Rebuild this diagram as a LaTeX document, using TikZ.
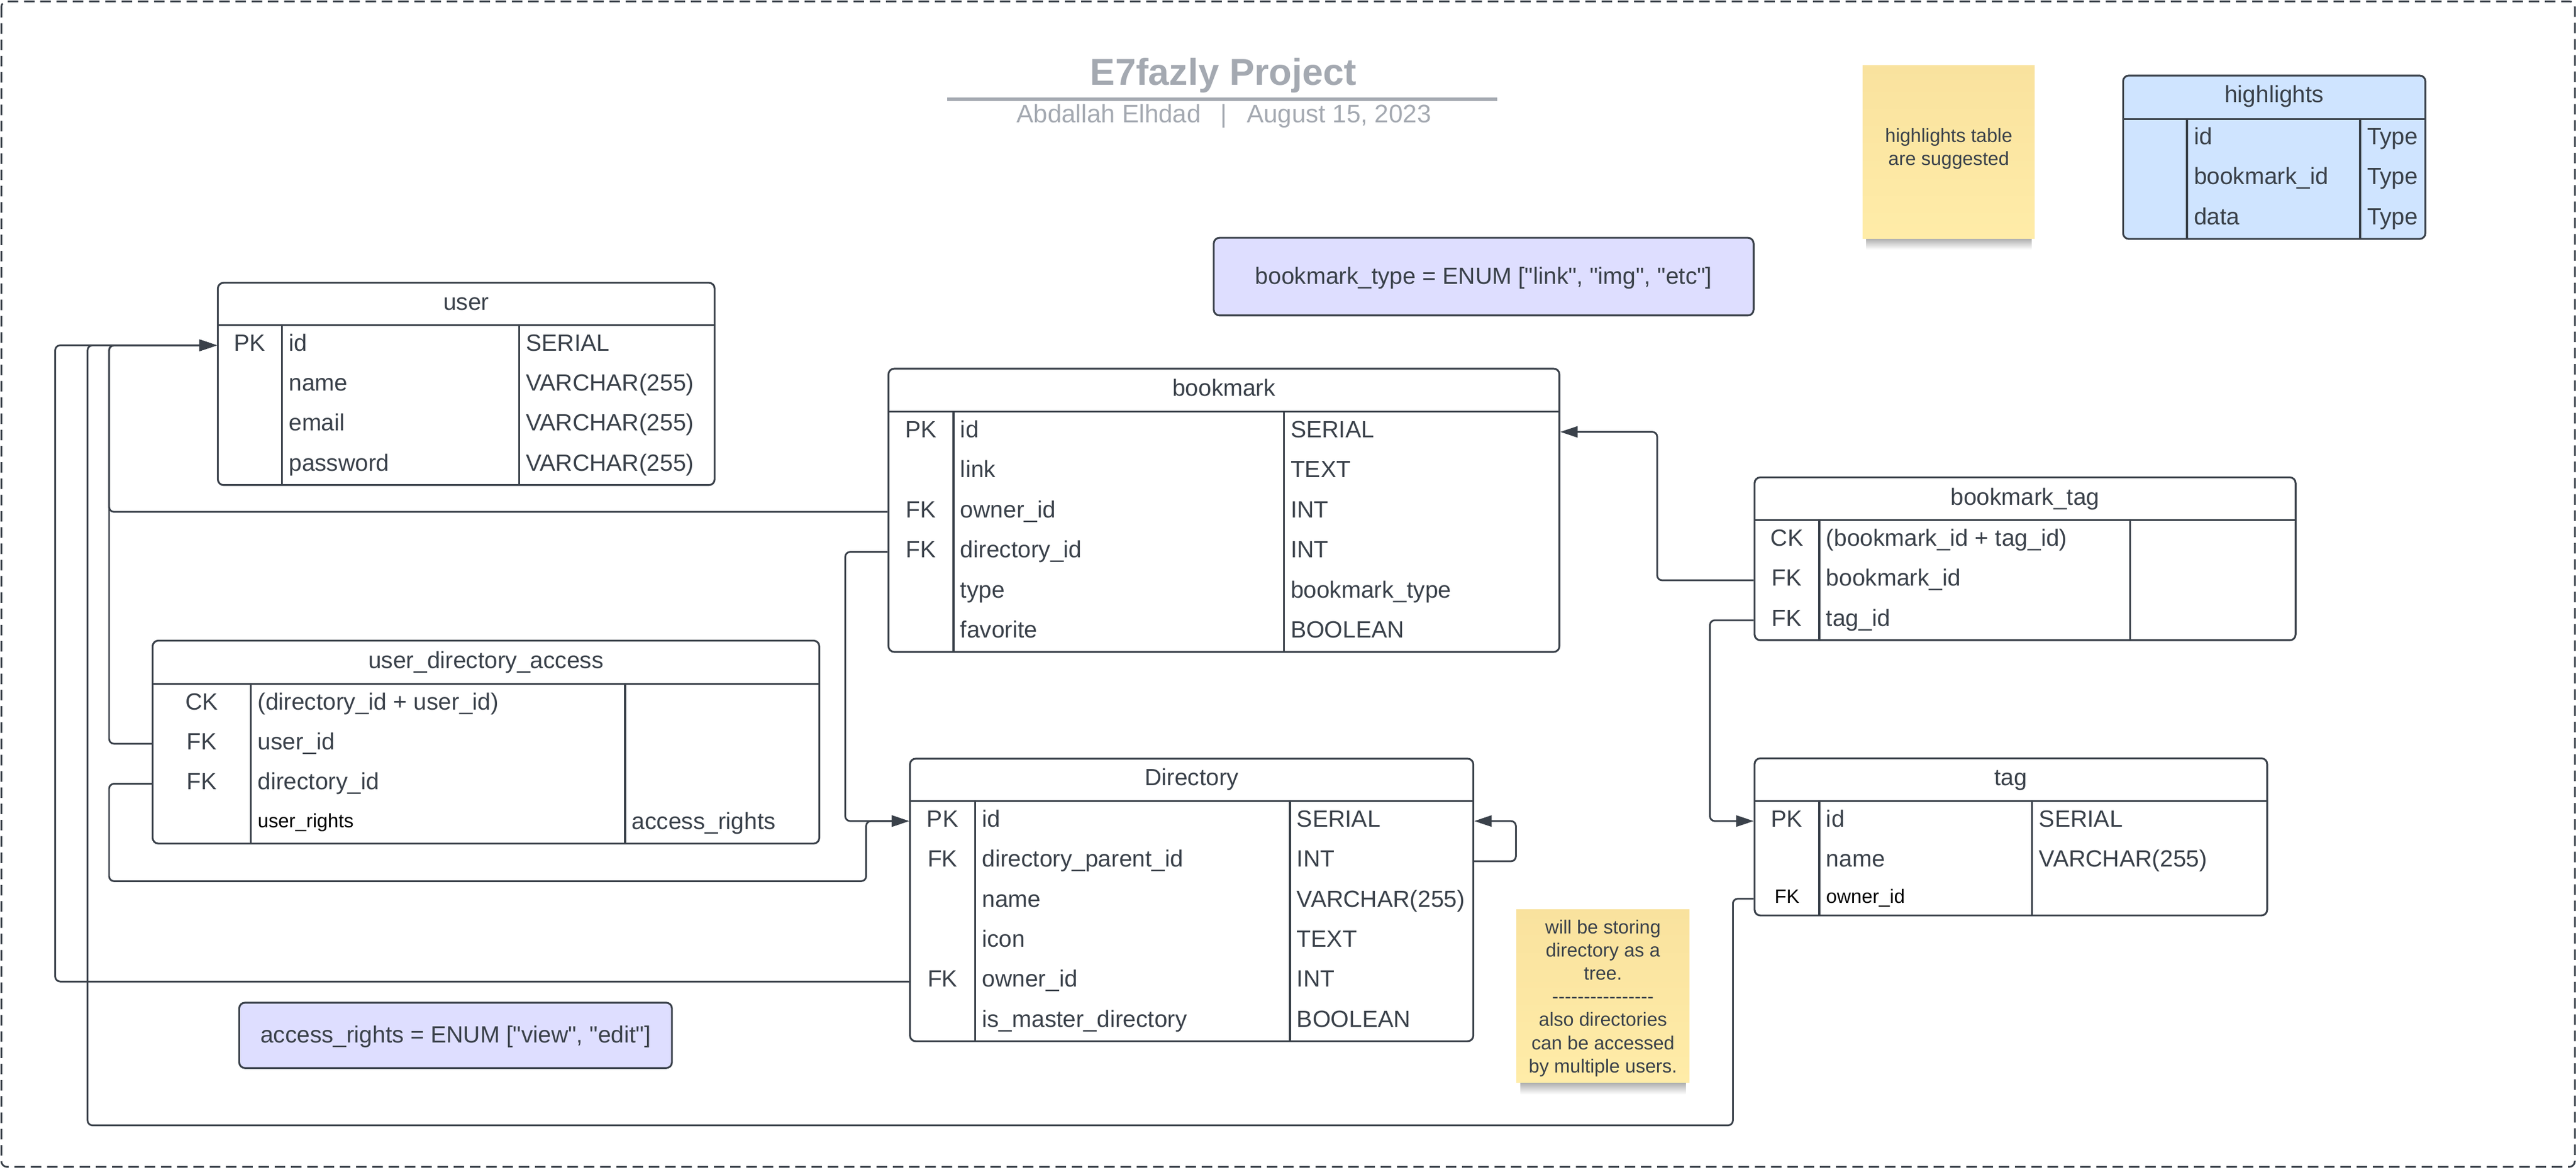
\documentclass[tikz,border=0pt]{standalone}
\usepackage{fontspec}
\setmainfont{Liberation Sans}
\usetikzlibrary{arrows.meta,fit}
\definecolor{ink}{HTML}{3A414A}
\definecolor{titlegray}{HTML}{A4A9B1}
\definecolor{hlblue}{HTML}{CFE4FF}
\definecolor{enumfill}{HTML}{DEDEFF}
\definecolor{notetop}{HTML}{F9E29E}
\definecolor{notebot}{HTML}{FFECA8}
\newcommand\hy{\mbox{-}}
\font\plainquotefont="Liberation Sans" at 14.3pt
\newcommand\dq{{\plainquotefont"}}
\tikzset{
  tblbox/.style={draw=ink, line width=1.1pt, rounded corners=3.5pt, inner sep=0pt},
  tblline/.style={draw=ink, line width=1.1pt},
  txtbase/.style={inner sep=0pt, text=ink, font=\fontsize{14.3}{17}\selectfont},
  keyt/.style={txtbase, anchor=base},
  fldt/.style={txtbase, anchor=base west},
  hdrt/.style={txtbase, anchor=base},
  smallk/.style={inner sep=0pt, text=black, font=\fontsize{11.8}{14}\selectfont, anchor=base},
  smallf/.style={inner sep=0pt, text=black, font=\fontsize{11.8}{14}\selectfont, anchor=base west},
  notet/.style={inner sep=0pt, text=ink, font=\fontsize{11.6}{14}\selectfont, anchor=base},
  conn/.style={draw=ink, line width=1.05pt, rounded corners=3pt},
  arr/.style={-{Triangle[length=10.6pt,width=6.8pt]}},
  enumbox/.style={draw=ink, line width=1.1pt, fill=enumfill, rounded corners=3.5pt, inner sep=0pt},
  notebox/.style={inner sep=0pt, top color=notetop, bottom color=notebot, draw=none},
  shadowbox/.style={top color=black!38, bottom color=white, draw=none}
}
% #1 name, #2 x1, #3 y1, #4 x2, #5 y2, #6 header y, #7 col1, #8 col2, #9 extra style
\newcommand\erbox[9]{%
  \node[tblbox,#9, fit={(#2,#3) (#4,#5)}] (#1) {};
  \draw[tblline] (#2,#6) -- (#4,#6);
  \draw[tblline] (#7,#6) -- (#7,#5);
  \draw[tblline] (#8,#6) -- (#8,#5);
}
% #1 name, #2 y centre, #3 key x, #4 field x, #5 type x, #6 key, #7 field, #8 type
\newcommand\erow[8]{%
  \node[keyt] (#1k) at (#3,#2+3.5) {#6};
  \node[fldt] (#1f) at (#4,#2+3.5) {#7};
  \node[fldt] (#1t) at (#5,#2+3.5) {#8};
}
\begin{document}
\begin{tikzpicture}[x=1pt,y=-1pt]
\useasboundingbox (0,0) rectangle (1568,712.2);
\fill[white] (0,0) rectangle (1568,712.2);
% outer dashed frame
\draw[ink, line width=1.05pt, dash pattern=on 6.4pt off 3.5pt, rounded corners=3.5pt] (0.8,0.8) rectangle (1567.3,710.6);

% title
\node[anchor=base, inner sep=0pt, text=titlegray, font=\bfseries\fontsize{22.8}{27}\selectfont] (title) at (744.7,51.9) {E7fazly Project};
\draw[titlegray, line width=2.2pt] (576.7,60.5) -- (911.3,60.5);
\node[anchor=base, inner sep=0pt, text=titlegray, font=\fontsize{15.4}{18}\selectfont] (subtitle) at (745,74.7) {Abdallah Elhdad\hspace{12pt}|\hspace{12pt}August 15, 2023};

% note 1
\shade[shadowbox] (1136,144) rectangle (1236.5,152);
\node[notebox, fit={(1133.8,40) (1238.5,145.2)}] (note1) {};
\node[notet] (note1a) at (1186.2,86.5) {highlights table};
\node[notet] (note1b) at (1186.2,100.5) {are suggested};

% highlights
\erbox{highlights}{1292.3}{46}{1476.3}{145.5}{72.4}{1331.2}{1436.6}{fill=hlblue}
\node[hdrt] (highlights-title) at (1384.3,62.3) {highlights};
\erow{hl1}{84.6}{1311.75}{1335.2}{1440.6}{}{id}{Type}
\erow{hl2}{108.9}{1311.75}{1335.2}{1440.6}{}{bookmark\_id}{Type}
\erow{hl3}{133.2}{1311.75}{1335.2}{1440.6}{}{data}{Type}

% enum bookmark_type
\node[enumbox, fit={(738.8,144.8) (1067.4,192.1)}] (bmtype) {};
\node[keyt] (bmtype-text) at (903.1,173) {bookmark\_type = ENUM [\dq link\dq, \dq img\dq, \dq etc\dq]};

% user
\erbox{user}{132.6}{172.2}{435}{295.4}{198}{171.6}{316}{}
\node[hdrt] (user-title) at (283.8,188.7) {user};
\erow{u1}{210.2}{152.1}{175.6}{320}{PK}{id}{SERIAL}
\erow{u2}{234.5}{152.1}{175.6}{320}{}{name}{VARCHAR(255)}
\erow{u3}{258.9}{152.1}{175.6}{320}{}{email}{VARCHAR(255)}
\erow{u4}{283.2}{152.1}{175.6}{320}{}{password}{VARCHAR(255)}

% bookmark
\erbox{bookmark}{540.8}{224.5}{949.2}{397}{250.7}{580.4}{781.4}{}
\node[hdrt] (bookmark-title) at (745,241.2) {bookmark};
\erow{b1}{262.9}{560.6}{584.4}{785.4}{PK}{id}{SERIAL}
\erow{b2}{287.3}{560.6}{584.4}{785.4}{}{link}{TEXT}
\erow{b3}{311.7}{560.6}{584.4}{785.4}{FK}{owner\_id}{INT}
\erow{b4}{336.1}{560.6}{584.4}{785.4}{FK}{directory\_id}{INT}
\erow{b5}{360.5}{560.6}{584.4}{785.4}{}{type}{bookmark\_type}
\erow{b6}{384.9}{560.6}{584.4}{785.4}{}{favorite}{BOOLEAN}

% user_directory_access
\erbox{uda}{92.9}{390.1}{498.7}{513.7}{416.5}{152.7}{380.5}{}
\node[hdrt] (uda-title) at (295.8,406.9) {user\_directory\_access};
\erow{a1}{428.65}{122.8}{156.7}{384.5}{CK}{(directory\_id + user\_id)}{}
\erow{a2}{452.95}{122.8}{156.7}{384.5}{FK}{user\_id}{}
\erow{a3}{477.25}{122.8}{156.7}{384.5}{FK}{directory\_id}{}
\node[smallf] (a4f) at (156.7,504) {user\_rights};
\node[fldt] (a4t) at (384.5,505) {access\_rights};

% Directory
\erbox{directory}{553.9}{462}{896.8}{634.1}{487.9}{593.6}{785.2}{}
\node[hdrt] (directory-title) at (725.35,478.5) {Directory};
\erow{d1}{500.1}{573.75}{597.6}{789.2}{PK}{id}{SERIAL}
\erow{d2}{524.5}{573.75}{597.6}{789.2}{FK}{directory\_parent\_id}{INT}
\erow{d3}{548.8}{573.75}{597.6}{789.2}{}{name}{VARCHAR(255)}
\erow{d4}{573.2}{573.75}{597.6}{789.2}{}{icon}{TEXT}
\erow{d5}{597.6}{573.75}{597.6}{789.2}{FK}{owner\_id}{INT}
\erow{d6}{621.9}{573.75}{597.6}{789.2}{}{is\_master\_directory}{BOOLEAN}

% bookmark_tag
\erbox{bmtag}{1068}{290.7}{1397.3}{389.9}{316.8}{1107.4}{1296.5}{}
\node[hdrt] (bmtag-title) at (1232.65,307.5) {bookmark\_tag};
\erow{t1}{329}{1087.7}{1111.4}{1300.5}{CK}{(bookmark\_id + tag\_id)}{}
\erow{t2}{353.4}{1087.7}{1111.4}{1300.5}{FK}{bookmark\_id}{}
\erow{t3}{377.7}{1087.7}{1111.4}{1300.5}{FK}{tag\_id}{}

% tag
\erbox{tag}{1068}{461.8}{1380}{557.5}{487.8}{1107.4}{1237}{}
\node[hdrt] (tag-title) at (1224,478.4) {tag};
\erow{g1}{500}{1087.7}{1111.4}{1241}{PK}{id}{SERIAL}
\erow{g2}{524.4}{1087.7}{1111.4}{1241}{}{name}{VARCHAR(255)}
\node[smallk] (g3k) at (1087.7,550) {FK};
\node[smallf] (g3f) at (1111.4,550) {owner\_id};

% note 2
\shade[shadowbox] (925.5,658) rectangle (1026,666.5);
\node[notebox, fit={(923,553.7) (1028.4,659.4)}] (note2) {};
\node[notet] (note2a) at (975.7,568.6) {will be storing};
\node[notet] (note2b) at (975.7,582.7) {directory as a};
\node[notet] (note2c) at (975.7,596.8) {tree.};
\node[notet] (note2d) at (975.7,610.9) {\hy\hy\hy\hy\hy\hy\hy\hy\hy\hy\hy\hy\hy\hy\hy\hy};
\node[notet] (note2e) at (975.7,625.0) {also directories};
\node[notet] (note2f) at (975.7,639.1) {can be accessed};
\node[notet] (note2g) at (975.7,653.2) {by multiple users.};

% enum access_rights
\node[enumbox, fit={(145.6,610.6) (409,650.4)}] (acctype) {};
\node[keyt] (acctype-text) at (277.3,635.2) {access\_rights = ENUM [\dq view\dq, \dq edit\dq]};

% connector end points
\coordinate (user-id) at (user.west |- 0,210.3);
\coordinate (bm-id-e) at (bookmark.east |- 0,263);
\coordinate (bm-owner) at (bookmark.west |- 0,311.7);
\coordinate (bm-dir) at (bookmark.west |- 0,336.1);
\coordinate (uda-user) at (uda.west |- 0,452.9);
\coordinate (uda-dir) at (uda.west |- 0,477.3);
\coordinate (dir-id-w) at (directory.west |- 0,500);
\coordinate (dir-id-e) at (directory.east |- 0,500);
\coordinate (dir-parent) at (directory.east |- 0,524.5);
\coordinate (dir-owner) at (directory.west |- 0,597.7);
\coordinate (bt-bm) at (bmtag.west |- 0,353.4);
\coordinate (bt-tag) at (bmtag.west |- 0,377.7);
\coordinate (tag-id) at (tag.west |- 0,500);
\coordinate (tag-owner) at (tag.west |- 0,547.3);

% connectors
\draw[conn,arr] (bm-owner) -| (66.4,210.3) -- (user-id);
\draw[conn,arr] (uda-user) -| (66.4,210.3) -- (user-id);
\draw[conn,arr] (dir-owner) -| (33.6,210.3) -- (user-id);
\draw[conn,arr] (tag-owner) -| (1054.8,685.3) -| (53.3,210.3) -- (user-id);
\draw[conn,arr] (uda-dir) -| (66.4,536.6) -| (527.2,500) -- (dir-id-w);
\draw[conn,arr] (bm-dir) -| (514.5,500) -- (dir-id-w);
\draw[conn,arr] (dir-parent) -| (922.7,500) -- (dir-id-e);
\draw[conn,arr] (bt-bm) -| (1008.7,263) -- (bm-id-e);
\draw[conn,arr] (bt-tag) -| (1040.8,500) -- (tag-id);
\end{tikzpicture}
\end{document}
